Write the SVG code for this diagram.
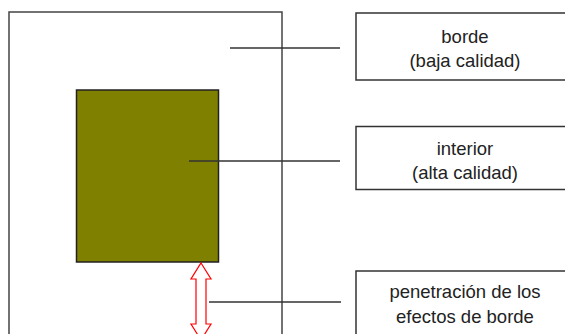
<svg xmlns="http://www.w3.org/2000/svg" width="565" height="334" viewBox="0 0 565 334">
<style>
.box{fill:#fff;stroke:#333;stroke-width:1.5}
.ln{stroke:#333;stroke-width:1.5;fill:none}
.t{font-family:"Liberation Sans",Arial,sans-serif;font-size:18.5px;fill:#222;text-anchor:middle}
</style>
<rect width="565" height="334" fill="#fff"/>
<g id="area">
<rect x="9" y="12" width="273" height="340" fill="#fff" stroke="#444" stroke-width="1.5"/>
</g>
<g id="interior-rect">
<rect x="76.5" y="90" width="142" height="172" fill="#808000" stroke="#222" stroke-width="1.5"/>
</g>
<g id="arrow">
<path d="M201,263 L211,279 L206,279 L206,324 L211,324 L201,340 L191,324 L196,324 L196,279 L191,279 Z" fill="#fff" stroke="#ff0000" stroke-width="1.2"/>
</g>
<g id="connectors">
<line class="ln" x1="230" y1="48" x2="340" y2="48"/>
<line class="ln" x1="189" y1="161" x2="340" y2="161"/>
<line class="ln" x1="209" y1="302" x2="341" y2="302"/>
</g>
<g id="borde">
<rect class="box" x="356" y="13" width="220" height="67"/>
<text class="t" x="465" y="43">borde</text>
<text class="t" x="465" y="67">(baja calidad)</text>
</g>
<g id="interior">
<rect class="box" x="356" y="126.5" width="220" height="63"/>
<text class="t" x="465" y="155">interior</text>
<text class="t" x="465" y="179">(alta calidad)</text>
</g>
<g id="penetracion">
<rect class="box" x="356" y="271" width="220" height="80"/>
<text class="t" x="465" y="298">penetración de los</text>
<text class="t" x="465" y="323">efectos de borde</text>
</g>
</svg>
